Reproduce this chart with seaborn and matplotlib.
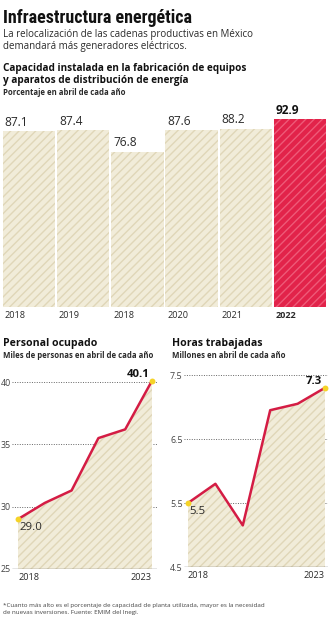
import matplotlib
matplotlib.use('Agg')
import matplotlib.pyplot as plt
import seaborn as sns
import numpy as np
import pandas as pd

# datos
anios_barras = ['2018', '2019', '2018', '2020', '2021', '2022']
capacidad = [87.1, 87.4, 76.8, 87.6, 88.2, 92.9]

anios_lineas = [2018, 2019, 2020, 2021, 2022, 2023]
personal = [29.0, 30.3, 31.3, 35.5, 36.2, 40.1]
horas = [5.5, 5.8, 5.15, 6.95, 7.05, 7.3]

W, H = 329, 620
BEIGE = '#f1ecd9'
BEIGE_HATCH = '#e0d6b8'
ROJO = '#e2234a'
ROJO_HATCH = '#ee5a78'
LINEA = '#d41c44'
AMARILLO = '#f5d328'
TXT = '#2a2a2a'

sns.set_theme(style='white')
plt.rcParams['font.family'] = ['Open Sans', 'DejaVu Sans']
plt.rcParams['hatch.linewidth'] = 1.0


def rect(x0, y_top, x1, y_bot):
    return [x0 / W, 1 - y_bot / H, (x1 - x0) / W, (y_bot - y_top) / H]


def ftext(x, y, s, **kw):
    fig.text(x / W, 1 - y / H, s, va='baseline', ha='left', **kw)


fig = plt.figure(figsize=(W / 100, H / 100), dpi=100)

# encabezados
ftext(3, 23, 'Infraestructura energética', fontsize=13, color='#111', fontweight='semibold',
      family=['Noto Sans ExtraCondensed SemiBold', 'Noto Sans ExtraCondensed',
              'Noto Sans Condensed', 'Roboto Condensed', 'DejaVu Sans'])
ftext(3, 37, 'La relocalización de las cadenas productivas en México', fontsize=7.0, color=TXT)
ftext(3, 48.5, 'demandará más generadores eléctricos.', fontsize=7.0, color=TXT)
ftext(3, 71, 'Capacidad instalada en la fabricación de equipos', fontsize=7.2,
      fontweight='bold', color='#111')
ftext(3, 83, 'y aparatos de distribución de energía', fontsize=7.2,
      fontweight='bold', color='#111')
ftext(3, 95, 'Porcentaje en abril de cada año', fontsize=5.6, fontweight='bold', color=TXT)

# barras
ax = fig.add_axes(rect(2, 105, 327, 307))
df_b = pd.DataFrame({'pos': np.arange(len(capacidad)), 'valor': capacidad})
sns.barplot(data=df_b, x='pos', y='valor', ax=ax, width=0.965, native_scale=True)
for i, p in enumerate(ax.patches):
    ultimo = i == len(capacidad) - 1
    p.set_facecolor(ROJO if ultimo else BEIGE)
    p.set_edgecolor(ROJO_HATCH if ultimo else BEIGE_HATCH)
    p.set_hatch('////')
    p.set_linewidth(0)
ax.set_xlim(-0.5, len(capacidad) - 0.5)
ax.set_ylim(0, 100)
for i, v in enumerate(capacidad):
    ultimo = i == len(capacidad) - 1
    ax.text(i - 0.45, v + 1.2, f'{v:.1f}', ha='left', va='bottom',
            fontsize=8.6, fontweight='bold' if ultimo else 'normal',
            color='#111' if ultimo else TXT, clip_on=False)
ax.set_xticks([i - 0.45 for i in range(len(anios_barras))])
ax.set_xticklabels(anios_barras, ha='left', fontsize=6.6, color=TXT)
ax.get_xticklabels()[-1].set_fontweight('bold')
ax.tick_params(axis='x', length=0, pad=3)
ax.set_yticks([])
ax.set_xlabel('')
ax.set_ylabel('')
sns.despine(ax=ax, left=True, bottom=True)


def grafica_linea(pos, valores, yticks, ylim, xlim, titulo, subtitulo, tx, fmt):
    a = fig.add_axes(pos)
    x = np.arange(len(valores))
    a.fill_between(x, valores, ylim[0], facecolor=BEIGE, edgecolor=BEIGE_HATCH,
                   hatch='////', linewidth=0, zorder=1)
    for t in yticks[1:]:
        a.axhline(t, color='#666', lw=0.7, ls=(0, (1, 1.5)), zorder=0)
    a.axhline(yticks[0], color='#333', lw=0.9, zorder=3)
    df = pd.DataFrame({'x': x, 'y': valores})
    sns.lineplot(data=df, x='x', y='y', ax=a, color=LINEA, lw=1.8, zorder=4)
    a.scatter([x[0], x[-1]], [valores[0], valores[-1]], s=18, color=AMARILLO,
              zorder=5, clip_on=False, linewidths=0)
    a.set_xlim(*xlim)
    a.set_ylim(*ylim)
    a.set_yticks(yticks)
    a.set_yticklabels([fmt(t) for t in yticks], fontsize=6.4, color='#444')
    a.tick_params(axis='y', length=0, pad=1)
    a.set_xticks([0, len(valores) - 1])
    a.set_xticklabels([str(anios_lineas[0]), str(anios_lineas[-1])], fontsize=6.6, color=TXT)
    a.get_xticklabels()[0].set_ha('left')
    a.get_xticklabels()[1].set_ha('right')
    a.tick_params(axis='x', length=0, pad=3)
    a.set_xlabel('')
    a.set_ylabel('')
    sns.despine(ax=a, left=True, bottom=True)
    rango = ylim[1] - ylim[0]
    a.text(x[0] + 0.05, valores[0] - rango * 0.015, f'{valores[0]:.1f}', ha='left', va='top',
           fontsize=8.2, color=TXT)
    a.text(x[-1] - 0.1, valores[-1] + rango * 0.005, f'{valores[-1]:.1f}', ha='right',
           va='bottom', fontsize=8.2, fontweight='bold', color='#111', clip_on=False)
    ftext(tx, 346, titulo, fontsize=7.6, fontweight='bold', color='#111')
    ftext(tx, 358, subtitulo, fontsize=5.6, fontweight='bold', color=TXT)
    return a


grafica_linea(rect(12, 382, 157, 569), personal, [25, 30, 35, 40], (25, 40),
              (-0.224, 5.187), 'Personal ocupado', 'Miles de personas en abril de cada año',
              3, lambda t: f'{t:g}')
grafica_linea(rect(184, 375, 328, 567), horas, [4.5, 5.5, 6.5, 7.5], (4.5, 7.5),
              (-0.146, 5.11), 'Horas trabajadas', 'Millones en abril de cada año',
              172, lambda t: f'{t:.1f}')

ftext(3, 607, '*Cuanto más alto es el porcentaje de capacidad de planta utilizada, mayor es la necesidad',
      fontsize=4.5, color='#444')
ftext(3, 614, 'de nuevas inversiones. Fuente: EMIM del Inegi.', fontsize=4.5, color='#444')

fig.savefig('out.png', dpi=100, facecolor='white')
